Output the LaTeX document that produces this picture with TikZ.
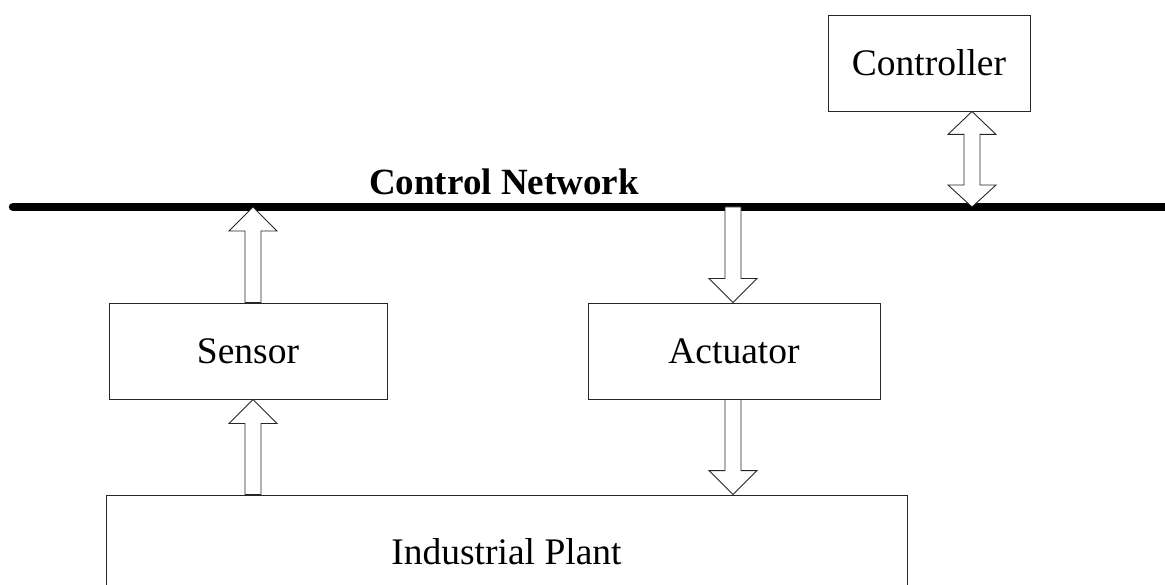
\documentclass[tikz,border=0pt]{standalone}
\usepackage{fontspec}
\setmainfont{Liberation Serif}
\usetikzlibrary{calc}

\tikzset{
  box/.style={draw=black!85, line width=0.9pt, fill=white, inner sep=0pt,
              font=\fontsize{37.5}{42}\selectfont},
  blockarr/.style={draw=black!85, line width=0.9pt, fill=white, line join=miter},
  busline/.style={line width=8.5pt, line cap=round},
  buslabel/.style={font=\fontsize{37}{42}\selectfont\bfseries, inner sep=0pt, anchor=base}
}

% single-headed block arrow from #1 to #2 (vertical)
\newcommand\singleblk[2]{%
  \draw[blockarr] let \p1=(#1), \p2=(#2), \n1={sign(\y2-\y1)} in
    (\x1-8pt,\y1) -- (\x1-8pt,\y2-\n1*24pt) -- (\x1-24pt,\y2-\n1*24pt) --
    (\x1,\y2) -- (\x1+24pt,\y2-\n1*24pt) -- (\x1+8pt,\y2-\n1*24pt) --
    (\x1+8pt,\y1) -- cycle;}

% double-headed block arrow between #1 and #2 (vertical)
\newcommand\doubleblk[2]{%
  \draw[blockarr] let \p1=(#1), \p2=(#2), \n1={sign(\y2-\y1)} in
    (\x1,\y1) -- (\x1+24pt,\y1+\n1*23pt) -- (\x1+8pt,\y1+\n1*23pt) --
    (\x1+8pt,\y2-\n1*22pt) -- (\x1+24pt,\y2-\n1*22pt) -- (\x1,\y2) --
    (\x1-24pt,\y2-\n1*22pt) -- (\x1-8pt,\y2-\n1*22pt) --
    (\x1-8pt,\y1+\n1*23pt) -- (\x1-24pt,\y1+\n1*23pt) -- cycle;}

\begin{document}
\begin{tikzpicture}[x=1pt, y=-1pt]
  \useasboundingbox (0,0) rectangle (1165,585);
  \clip (0,0) rectangle (1165,585);

  % network bus
  \coordinate (busL) at (13,207);
  \coordinate (busR) at (1180,207);
  \draw[busline] (busL) -- (busR);
  \node[buslabel] (netlabel) at (504,195) {Control Network};

  % blocks
  \node[box, minimum width=202pt, minimum height=96pt] (ctrl)   at (929,63)  {Controller};
  \node[box, minimum width=278pt, minimum height=96pt] (sensor) at (248,351) {Sensor};
  \node[box, minimum width=292pt, minimum height=96pt] (act)    at (734,351) {Actuator};
  \node[box, minimum width=801pt, minimum height=114pt] (plant) at (506.5,552) {Industrial Plant};

  % arrow columns
  \coordinate (sx) at (253,0);
  \coordinate (ax) at (733,0);
  \coordinate (cx) at (972,0);

  % sensing path
  \singleblk{plant.north -| sx}{sensor.south -| sx}
  \singleblk{sensor.north -| sx}{busL -| sx}
  % actuation path
  \singleblk{busL -| ax}{act.north -| ax}
  \singleblk{act.south -| ax}{plant.north -| ax}
  % controller link
  \doubleblk{ctrl.south -| cx}{busL -| cx}
\end{tikzpicture}
\end{document}
